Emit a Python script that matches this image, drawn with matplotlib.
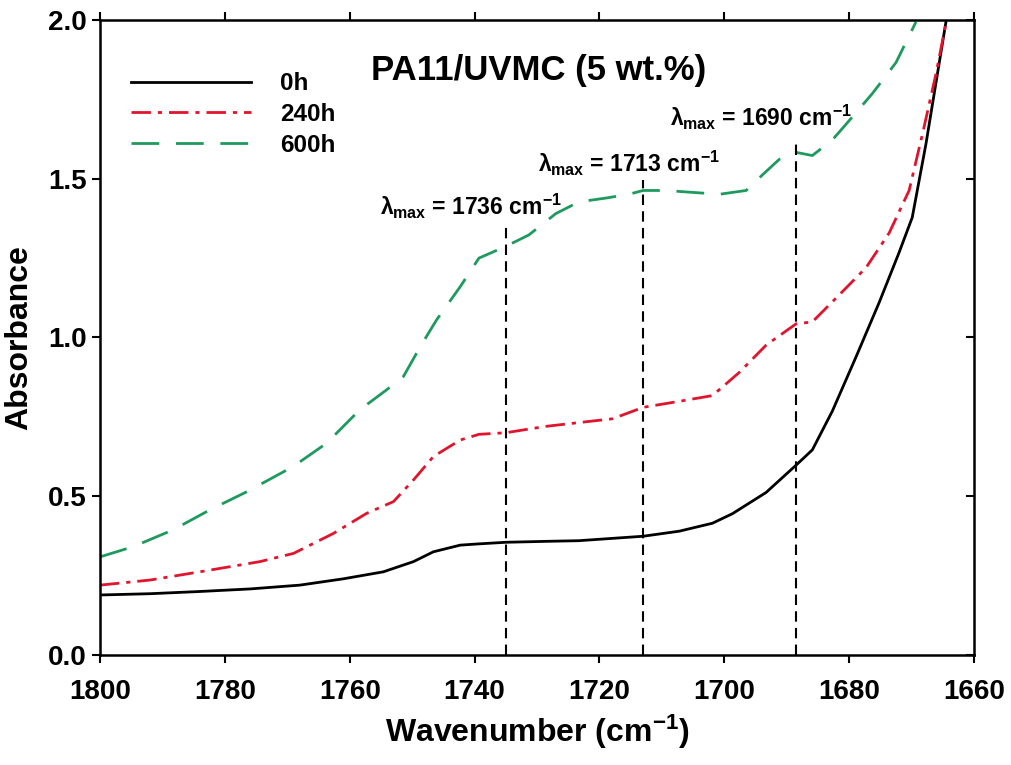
import matplotlib
matplotlib.use('Agg')
import matplotlib.pyplot as plt

plt.rcParams['font.family'] = ['Liberation Sans', 'DejaVu Sans']
plt.rcParams['font.weight'] = 'bold'
plt.rcParams['mathtext.fontset'] = 'custom'
plt.rcParams['mathtext.rm'] = 'Liberation Sans:bold'
plt.rcParams['mathtext.it'] = 'Liberation Sans:bold'
plt.rcParams['mathtext.bf'] = 'Liberation Sans:bold'

# 0h
wn_0 = [1800, 1792, 1784, 1776, 1768, 1761, 1754.6, 1749.8, 1746.6, 1742.3, 1739.3, 1735,
        1728.4, 1723.3, 1713, 1707.2, 1701.9, 1698.7, 1693.3, 1688.5, 1685.9, 1682.7,
        1678.9, 1675.2, 1672, 1669.9, 1667.7, 1664.5]
abs_0 = [0.189, 0.193, 0.200, 0.208, 0.220, 0.240, 0.262, 0.294, 0.325, 0.346, 0.350, 0.355,
         0.358, 0.360, 0.374, 0.390, 0.415, 0.445, 0.512, 0.598, 0.646, 0.768,
         0.939, 1.11, 1.268, 1.378, 1.61, 1.994]

# 240h
wn_240 = [1800, 1792, 1784, 1774.4, 1769, 1762.6, 1757.3, 1753, 1749.8, 1746.6, 1742.3,
          1739.3, 1735, 1728.6, 1720.6, 1717.9, 1713, 1707.2, 1701.9, 1697.6, 1693.3,
          1688.5, 1685.9, 1681.6, 1677.3, 1673.6, 1670.4, 1668.2, 1666.1, 1664.5]
abs_240 = [0.220, 0.236, 0.262, 0.294, 0.320, 0.383, 0.446, 0.483, 0.551, 0.625, 0.677,
           0.695, 0.700, 0.720, 0.738, 0.744, 0.780, 0.799, 0.817, 0.890, 0.976,
           1.043, 1.049, 1.134, 1.220, 1.329, 1.463, 1.646, 1.830, 1.990]

# 600h
wn_600 = [1800, 1794.7, 1788.3, 1782.4, 1776.5, 1769.1, 1763.7, 1758.4, 1754.1, 1751.4,
          1748.7, 1746.1, 1742.3, 1739.3, 1735, 1731.3, 1727, 1723.3, 1719, 1715.3, 1713,
          1709.4, 1705.1, 1700.8, 1696.5, 1693.9, 1691.2, 1688.5, 1685.9, 1682.7, 1680,
          1676.3, 1672.5, 1669.3]
abs_600 = [0.309, 0.341, 0.394, 0.457, 0.514, 0.593, 0.667, 0.772, 0.835, 0.877,
           0.971, 1.055, 1.160, 1.250, 1.287, 1.323, 1.390, 1.427, 1.439, 1.451, 1.463,
           1.463, 1.457, 1.451, 1.463, 1.512, 1.561, 1.583, 1.573, 1.622, 1.683,
           1.768, 1.866, 1.994]

peak_wn = [1735, 1713, 1688.5]
peak_top = [1.35, 1.495, 1.625]
peak_labels = ['1736', '1713', '1690']
label_pos = [(1755.2, 1.385), (1729.8, 1.52), (1708.7, 1.665)]

fig = plt.figure(figsize=(10.12, 7.65), dpi=100)
ax = fig.add_axes([0.0988, 0.1438, 0.8637, 0.8301])

ax.plot(wn_0, abs_0, color='black', lw=2, label='0h')
ax.plot(wn_240, abs_240, color='#e0142d', lw=2, dashes=(7, 2.5, 1.5, 2.5), label='240h')
ax.plot(wn_600, abs_600, color='#1e9a5e', lw=2, dashes=(10, 6), label='600h')

ax.vlines(peak_wn, 0, peak_top, colors='black', linestyles=(0, (5, 3)), lw=1.5)
for (tx, ty), lab in zip(label_pos, peak_labels):
    ax.text(tx, ty, r'$\lambda_{max}$ = ' + lab + r' cm$^{\mathregular{-1}}$', fontsize=16.5,
            fontweight='bold', ha='left', va='baseline')

ax.text(1729.8, 1.81, 'PA11/UVMC (5 wt.%)', fontsize=25, fontweight='bold', ha='center', va='baseline')

ax.set_xlim(1800, 1660)
ax.set_ylim(0, 2.0)
ax.set_xticks(range(1800, 1659, -20))
ax.set_yticks([0.0, 0.5, 1.0, 1.5, 2.0])
ax.set_yticklabels(['0.0', '0.5', '1.0', '1.5', '2.0'])
ax.tick_params(axis='both', labelsize=20, width=1.5, length=6, direction='out')
ax.tick_params(top=True, right=True)
for t in ax.xaxis.get_major_ticks():
    t.tick2line.set_marker(3)
for t in ax.yaxis.get_major_ticks():
    t.tick2line.set_marker(0)
for s in ax.spines.values():
    s.set_linewidth(1.8)
for lab in ax.get_xticklabels() + ax.get_yticklabels():
    lab.set_fontweight('bold')
ax.tick_params(axis='x', pad=11)

ax.set_xlabel(r'Wavenumber (cm$^{\mathregular{-1}}$)', fontsize=23, fontweight='bold', labelpad=6)
ax.set_ylabel('Absorbance', fontsize=23, fontweight='bold', labelpad=10)

leg = ax.legend(loc='upper left', frameon=False, fontsize=17.5, handlelength=4.9,
                labelspacing=0.32, handletextpad=1.2, borderpad=0, borderaxespad=0,
                bbox_to_anchor=(0.036, 0.918))

plt.savefig('out.png', dpi=100)
